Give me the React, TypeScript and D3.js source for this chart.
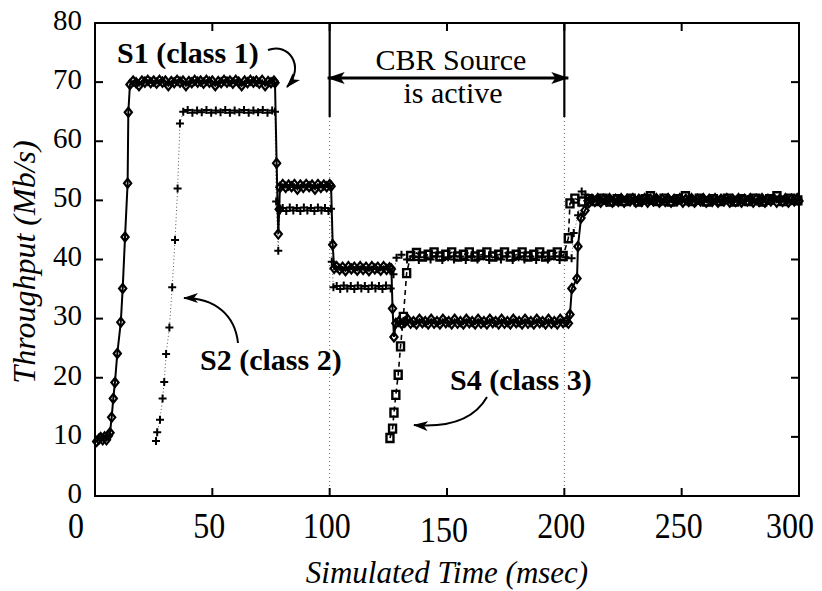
import React from "react";
import * as d3 from "d3";

type Pt = [number, number];

// Axis ticks
const xTicks = [0, 50, 100, 150, 200, 250, 300];
const yTicks = [0, 10, 20, 30, 40, 50, 60, 70, 80];
// Interval (msec) during which the CBR source is active
const cbrStart = 100;
const cbrEnd = 200;

// S1 (class 1): [time msec, throughput Mb/s]
const s1Class1: Pt[] = [
  [0.7, 9.2], [1.6, 9.6], [2.4, 9.9], [3.3, 9.5], [4.1, 10.0], [4.9, 9.5], [5.7, 10.2], [6.4, 10.7],
  [7.1, 13.3], [7.8, 16.5], [8.5, 19.2], [9.5, 24.1], [11.0, 29.4], [11.8, 35.1], [12.8, 43.8],
  [13.9, 52.9], [14.2, 64.9], [14.9, 69.6],
  [16.25, 70.2], [17.5, 69.9], [18.75, 69.4], [20.0, 70.2], [21.25, 70.0], [22.5, 70.3], [23.75, 69.9],
  [25.0, 70.2], [26.25, 69.8], [27.5, 70.3], [28.75, 70.0], [30.0, 70.2], [31.25, 69.4], [32.5, 70.1],
  [33.75, 69.9], [35.0, 70.3], [36.25, 70.0], [37.5, 70.2], [38.75, 69.4], [40.0, 70.1], [41.25, 69.9],
  [42.5, 70.3], [43.75, 70.0], [45.0, 70.2], [46.25, 69.8], [47.5, 70.3], [48.75, 70.0], [50.0, 70.2],
  [51.25, 69.4], [52.5, 70.1], [53.75, 69.9], [55.0, 70.3], [56.25, 70.0], [57.5, 70.2], [58.75, 69.8],
  [60.0, 70.3], [61.25, 70.0], [62.5, 69.4], [63.75, 70.2], [65.0, 69.9], [66.25, 70.3], [67.5, 70.0],
  [68.75, 70.2], [70.0, 69.8], [71.25, 70.3], [72.5, 69.4], [73.75, 70.1], [75.0, 69.9], [76.25, 70.2],
  [76.7, 69.9],
  [77.4, 56.3], [78.1, 44.3], [78.5, 48.5], [78.8, 52.2],
  [80.0, 52.7], [81.25, 52.2], [82.5, 52.6], [83.75, 52.3], [85.0, 52.7], [86.25, 51.9], [87.5, 52.6],
  [88.75, 52.2], [90.0, 52.7], [91.25, 52.3], [92.5, 52.6], [93.75, 51.9], [95.0, 52.7], [96.25, 52.2],
  [97.5, 52.6], [98.75, 52.3], [100.0, 52.7], [100.6, 52.4],
  [101.3, 42.5], [101.9, 38.5],
  [103.0, 38.8], [104.25, 38.3], [105.5, 38.7], [106.75, 38.1], [108.0, 38.8], [109.25, 38.4],
  [110.5, 38.7], [111.75, 38.2], [113.0, 38.8], [114.25, 38.3], [115.5, 38.7], [116.75, 38.1],
  [118.0, 38.8], [119.25, 38.4], [120.5, 38.7], [121.75, 38.2], [123.0, 38.8], [124.25, 38.3],
  [125.5, 38.6], [126.3, 38.4],
  [126.8, 31.7], [127.4, 26.9], [128.2, 29.2],
  [129.5, 29.5], [130.75, 29.1], [132.0, 29.4], [133.25, 29.9], [134.5, 29.2], [135.75, 29.5],
  [137.0, 29.1], [138.25, 29.9], [139.5, 29.3], [140.75, 29.5], [142.0, 29.1], [143.25, 29.9],
  [144.5, 29.2], [145.75, 29.5], [147.0, 29.1], [148.25, 29.9], [149.5, 29.3], [150.75, 29.5],
  [152.0, 29.1], [153.25, 29.9], [154.5, 29.2], [155.75, 29.5], [157.0, 29.1], [158.25, 29.9],
  [159.5, 29.3], [160.75, 29.5], [162.0, 29.1], [163.25, 29.9], [164.5, 29.2], [165.75, 29.5],
  [167.0, 29.1], [168.25, 29.9], [169.5, 29.3], [170.75, 29.5], [172.0, 29.1], [173.25, 29.9],
  [174.5, 29.2], [175.75, 29.5], [177.0, 29.1], [178.25, 29.9], [179.5, 29.3], [180.75, 29.5],
  [182.0, 29.1], [183.25, 29.9], [184.5, 29.2], [185.75, 29.5], [187.0, 29.1], [188.25, 29.9],
  [189.5, 29.3], [190.75, 29.5], [192.0, 29.1], [193.25, 29.9], [194.5, 29.2], [195.75, 29.5],
  [197.0, 29.1], [198.25, 29.9], [199.5, 29.3], [200.75, 29.5], [201.75, 29.2], [202.4, 30.7],
  [203.2, 35.1], [205.4, 36.8], [205.8, 42.2], [207.1, 47.0], [208.8, 48.3], [210.5, 49.6],
  [211.75, 50.2], [213.0, 49.8], [214.25, 50.3], [215.5, 49.7], [216.75, 50.2], [218.0, 49.9],
  [219.25, 50.3], [220.5, 49.7], [221.75, 50.2], [223.0, 49.8], [224.25, 50.3], [225.5, 49.7],
  [226.75, 50.2], [228.0, 49.9], [229.25, 50.3], [230.5, 49.7], [231.75, 50.2], [233.0, 49.8],
  [234.25, 50.3], [235.5, 49.7], [236.75, 50.2], [238.0, 49.9], [239.25, 50.3], [240.5, 49.7],
  [241.75, 50.2], [243.0, 49.8], [244.25, 50.3], [245.5, 49.7], [246.75, 50.2], [248.0, 49.9],
  [249.25, 50.3], [250.5, 49.7], [251.75, 50.2], [253.0, 49.8], [254.25, 50.3], [255.5, 49.7],
  [256.75, 50.2], [258.0, 49.9], [259.25, 50.3], [260.5, 49.7], [261.75, 50.2], [263.0, 49.8],
  [264.25, 50.3], [265.5, 49.7], [266.75, 50.2], [268.0, 49.9], [269.25, 50.3], [270.5, 49.7],
  [271.75, 50.2], [273.0, 49.8], [274.25, 50.3], [275.5, 49.7], [276.75, 50.2], [278.0, 49.9],
  [279.25, 50.3], [280.5, 49.7], [281.75, 50.2], [283.0, 49.8], [284.25, 50.3], [285.5, 49.7],
  [286.75, 50.2], [288.0, 49.9], [289.25, 50.3], [290.5, 49.7], [291.75, 50.2], [293.0, 49.8],
  [294.25, 50.3], [295.5, 49.7], [296.75, 50.2], [298.0, 49.9], [299.25, 50.3], [300.0, 49.9],
];

// S2 (class 2)
const s2Class2: Pt[] = [
  [26.0, 9.3], [26.5, 10.8], [27.7, 12.9], [28.8, 16.5], [29.5, 19.3], [30.3, 24.0], [31.7, 28.5],
  [32.9, 35.3], [34.1, 43.3], [35.2, 52.0], [36.2, 63.0], [37.6, 65.0],
  [39.5, 65.3], [41.5, 64.8], [43.5, 65.2], [45.5, 64.9], [47.5, 65.3], [49.5, 64.8], [51.5, 65.2],
  [53.5, 64.9], [55.5, 65.3], [57.5, 64.8], [59.5, 65.2], [61.5, 64.9], [63.5, 65.3], [65.5, 64.8],
  [67.5, 65.2], [69.5, 64.9], [71.5, 65.3], [73.5, 64.8], [75.5, 65.2], [76.7, 65.0],
  [77.2, 49.8], [78.1, 41.5], [78.8, 48.3],
  [80.0, 48.7], [81.5, 48.2], [83.0, 48.8], [84.5, 48.3], [86.0, 48.7], [87.5, 48.2], [89.0, 48.8],
  [90.5, 48.3], [92.0, 48.7], [93.5, 48.2], [95.0, 48.8], [96.5, 48.3], [98.0, 48.7], [99.5, 48.2],
  [100.6, 48.6],
  [100.9, 39.6], [101.6, 35.3],
  [103.0, 35.5], [104.5, 35.0], [106.0, 35.6], [107.5, 35.1], [109.0, 35.5], [110.5, 35.0],
  [112.0, 35.6], [113.5, 35.1], [115.0, 35.5], [116.5, 35.0], [118.0, 35.6], [119.5, 35.1],
  [121.0, 35.5], [122.5, 35.0], [124.0, 35.6], [126.0, 35.1],
  [127.2, 37.5], [128.5, 40.3], [130.6, 40.8],
  [133.0, 40.0], [135.5, 40.5], [138.0, 39.9], [140.5, 40.4], [143.0, 40.0], [145.5, 40.5],
  [148.0, 39.9], [150.5, 40.4], [153.0, 40.0], [155.5, 40.5], [158.0, 39.9], [160.5, 40.4],
  [163.0, 40.0], [165.5, 40.5], [168.0, 39.9], [170.5, 40.4], [173.0, 40.0], [175.5, 40.5],
  [178.0, 39.9], [180.5, 40.4], [183.0, 40.0], [185.5, 40.5], [188.0, 39.9], [190.5, 40.4],
  [193.0, 40.0], [195.5, 40.5], [198.0, 39.9], [200.5, 40.4], [203.1, 40.2],
  [204.0, 44.5], [205.9, 47.5], [207.4, 51.5], [209.0, 51.0], [210.5, 50.4],
  [212.0, 49.8], [214.5, 50.3], [217.0, 49.9], [219.5, 50.4], [222.0, 49.8], [224.5, 50.3],
  [227.0, 49.9], [229.5, 50.4], [232.0, 49.8], [234.5, 50.3], [237.0, 49.9], [239.5, 50.4],
  [242.0, 49.8], [244.5, 50.3], [247.0, 49.9], [249.5, 50.4], [252.0, 49.8], [254.5, 50.3],
  [257.0, 49.9], [259.5, 50.4], [262.0, 49.8], [264.5, 50.3], [267.0, 49.9], [269.5, 50.4],
  [272.0, 49.8], [274.5, 50.3], [277.0, 49.9], [279.5, 50.4], [282.0, 49.8], [284.5, 50.3],
  [287.0, 49.9], [289.5, 50.4], [292.0, 49.8], [294.5, 50.3], [297.0, 49.9], [299.5, 50.2],
];

// S4 (class 3)
const s4Class3: Pt[] = [
  [125.7, 9.8], [126.8, 11.4], [127.4, 14.1], [128.2, 17.1], [129.2, 20.5], [130.2, 25.3],
  [131.4, 30.3], [132.8, 37.7], [134.5, 40.6],
  [137.0, 41.1], [139.5, 40.5], [142.0, 40.8], [144.5, 41.2], [147.0, 40.5], [149.5, 40.8],
  [152.0, 41.2], [154.5, 40.5], [157.0, 40.8], [159.5, 41.2], [162.0, 40.5], [164.5, 40.8],
  [167.0, 41.2], [169.5, 40.5], [172.0, 40.8], [174.5, 41.2], [177.0, 40.5], [179.5, 40.8],
  [182.0, 41.2], [184.5, 40.5], [187.0, 40.8], [189.5, 41.2], [192.0, 40.5], [194.5, 40.8],
  [197.0, 41.2], [199.5, 40.6],
  [201.7, 43.6], [202.4, 49.5],
  [204.5, 50.3], [207.5, 49.8], [210.5, 50.2], [213.5, 49.9], [216.5, 50.3], [219.5, 49.8],
  [222.5, 50.2], [225.5, 49.9], [228.5, 50.3], [231.5, 49.8], [234.5, 50.2], [236.7, 50.7],
  [239.5, 49.9], [242.5, 50.3], [245.5, 49.8], [248.5, 50.2], [251.6, 50.7], [254.5, 49.9],
  [257.5, 50.3], [260.5, 49.8], [263.5, 50.2], [266.5, 49.9], [269.5, 50.3], [272.5, 49.8],
  [275.5, 50.2], [278.5, 49.9], [281.5, 50.3], [284.5, 49.8], [287.5, 50.2], [290.6, 50.7],
  [293.5, 49.9], [296.5, 50.3], [299.5, 50.0],
];

const W = 822;
const H = 591;
const plot = { left: 95, right: 799, top: 23, bottom: 496 };
const FONT =
  '"Liberation Serif", Tinos, "Times New Roman", Times, "Noto Serif", "DejaVu Serif", serif';

const diamondPath = "M0,-4.5L3.6,0L0,4.5L-3.6,0Z";
const squarePath = "M-3.5,-4h7v8h-7Z";
const plusPath = "M-4,0h8M0,-4v8";

export default function App() {
  const x = d3.scaleLinear().domain([0, 300]).range([plot.left, plot.right]);
  const y = d3.scaleLinear().domain([0, 80]).range([plot.bottom, plot.top]);
  const line = d3
    .line<Pt>()
    .x((d) => x(d[0]))
    .y((d) => y(d[1]));

  const markers = (data: Pt[], path: string, key: string, sw: number) =>
    data.map((d, i) => (
      <path
        key={`${key}-${i}`}
        d={path}
        transform={`translate(${x(d[0])},${y(d[1])})`}
        fill="none"
        stroke="#000"
        strokeWidth={sw}
      />
    ));

  const tickLen = 8;
  const xLabelShift = (t: number) => (t === 0 ? -19 : t === 300 ? -9 : -3);
  const txt = { fontFamily: FONT, fill: "#000" };

  return (
    <svg
      width={W}
      height={H}
      viewBox={`0 0 ${W} ${H}`}
      style={{ position: "absolute", left: 0, top: 0, background: "#fff", fontFamily: FONT }}
    >
      <defs>
        <marker
          id="headSmall"
          viewBox="0 0 15 10"
          refX="14"
          refY="5"
          markerWidth="15"
          markerHeight="10"
          markerUnits="userSpaceOnUse"
          orient="auto-start-reverse"
        >
          <path d="M0,0L15,5L0,10L4,5Z" fill="#000" />
        </marker>
        <marker
          id="headBig"
          viewBox="0 0 18 12"
          refX="17"
          refY="6"
          markerWidth="18"
          markerHeight="12"
          markerUnits="userSpaceOnUse"
          orient="auto-start-reverse"
        >
          <path d="M0,0L18,6L0,12L4,6Z" fill="#000" />
        </marker>
      </defs>

      <rect x={0} y={0} width={W} height={H} fill="#fff" />

      {/* CBR interval boundaries */}
      {[cbrStart, cbrEnd].map((t) => (
        <g key={`cbr-${t}`}>
          <line
            x1={x(t)}
            x2={x(t)}
            y1={117}
            y2={plot.bottom}
            stroke="#666"
            strokeWidth={1}
            strokeDasharray="1,3"
          />
          <line x1={x(t)} x2={x(t)} y1={plot.top} y2={117} stroke="#000" strokeWidth={2.2} />
        </g>
      ))}

      {/* Series lines */}
      <path d={line(s2Class2) || ""} fill="none" stroke="#555" strokeWidth={1} strokeDasharray="1,2.5" />
      <path d={line(s4Class3) || ""} fill="none" stroke="#000" strokeWidth={1.6} strokeDasharray="5,4" />
      <path d={line(s1Class1) || ""} fill="none" stroke="#000" strokeWidth={2} />

      {/* Series markers */}
      <g>{markers(s2Class2, plusPath, "s2", 2)}</g>
      <g>{markers(s4Class3, squarePath, "s4", 2.4)}</g>
      <g>{markers(s1Class1, diamondPath, "s1", 2.2)}</g>

      {/* Frame */}
      <rect
        x={plot.left}
        y={plot.top}
        width={plot.right - plot.left}
        height={plot.bottom - plot.top}
        fill="none"
        stroke="#000"
        strokeWidth={2}
      />

      {/* Y ticks and labels */}
      {yTicks.map((v) => (
        <g key={`y-${v}`}>
          {v > 0 && v < 80 && (
            <>
              <line x1={plot.left} x2={plot.left + tickLen} y1={y(v)} y2={y(v)} stroke="#000" strokeWidth={2} />
              <line x1={plot.right} x2={plot.right - tickLen} y1={y(v)} y2={y(v)} stroke="#000" strokeWidth={2} />
            </>
          )}
          <text x={82} y={y(v) - 3} dy="0.34em" textAnchor="end" fontSize={29} style={txt}>
            {v}
          </text>
        </g>
      ))}

      {/* X ticks and labels */}
      {xTicks.map((t) => (
        <g key={`x-${t}`}>
          {t > 0 && t < 300 && (
            <>
              <line x1={x(t)} x2={x(t)} y1={plot.bottom} y2={plot.bottom - tickLen} stroke="#000" strokeWidth={2} />
              <line x1={x(t)} x2={x(t)} y1={plot.top} y2={plot.top + tickLen} stroke="#000" strokeWidth={2} />
            </>
          )}
          <text
            transform={`translate(${x(t) + xLabelShift(t)},${t === 150 ? 542 : 538}) scale(1,1.1)`}
            textAnchor="middle"
            fontSize={32}
            style={txt}
          >
            {t}
          </text>
        </g>
      ))}

      {/* Axis titles */}
      <text x={447} y={583} textAnchor="middle" fontSize={31} fontStyle="italic" style={txt}>
        Simulated Time (msec)
      </text>
      <text
        transform="translate(35,262) rotate(-90)"
        textAnchor="middle"
        fontSize={32}
        fontStyle="italic"
        style={txt}
      >
        Throughput (Mb/s)
      </text>

      {/* CBR annotation */}
      <text x={451} y={70} textAnchor="middle" fontSize={30} style={txt}>
        CBR Source
      </text>
      <text x={453} y={103} textAnchor="middle" fontSize={30} style={txt}>
        is active
      </text>
      <line
        x1={x(cbrStart) - 2}
        x2={x(cbrEnd) + 4}
        y1={78}
        y2={78}
        stroke="#000"
        strokeWidth={3}
        markerStart="url(#headBig)"
        markerEnd="url(#headBig)"
      />

      {/* Flow labels */}
      <text x={117} y={63} fontSize={30} fontWeight="bold" style={txt}>
        S1 (class 1)
      </text>
      <path d="M268,50C288,42 306,66 287,87" fill="none" stroke="#000" strokeWidth={2} markerEnd="url(#headSmall)" />

      <text x={200} y={370} fontSize={30} fontWeight="bold" style={txt}>
        S2 (class 2)
      </text>
      <path d="M238,343C235,315 215,298 184,298" fill="none" stroke="#000" strokeWidth={2} markerEnd="url(#headSmall)" />

      <text x={450} y={390} fontSize={30} fontWeight="bold" style={txt}>
        S4 (class 3)
      </text>
      <path d="M487,397C475,418 452,428 414,425" fill="none" stroke="#000" strokeWidth={2} markerEnd="url(#headSmall)" />
    </svg>
  );
}
